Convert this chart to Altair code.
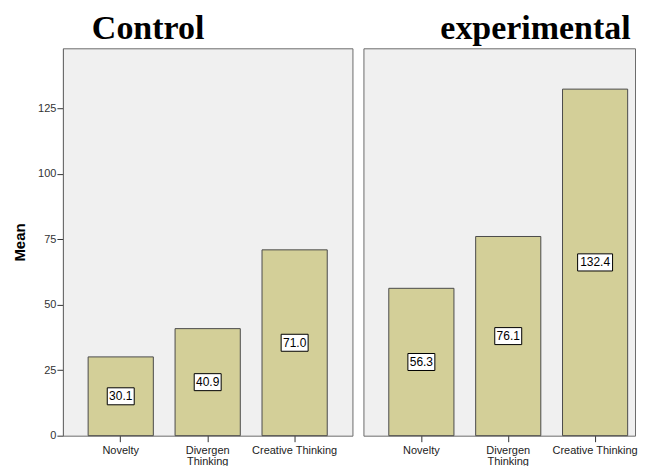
import altair as alt
import pandas as pd

groups = ["Control", "experimental"]
categories = ["Novelty", "Divergen Thinking", "Creative Thinking"]
control_means = [30.1, 40.9, 71.0]
experimental_means = [56.3, 76.1, 132.4]
y_ticks = [0, 25, 50, 75, 100, 125]

rows = []
for g, vals in zip(groups, [control_means, experimental_means]):
    for c, v in zip(categories, vals):
        rows.append({"group": g, "category": c, "mean": v})
df = pd.DataFrame(rows)

BAR_FILL = "#d3cf98"
BAR_STROKE = "#4a4a4a"
BORDER = "#6b6b6b"
SANS = "Liberation Sans"
SERIF = "Liberation Serif"

BOX4 = "M-1,-0.63L1,-0.63L1,0.63L-1,0.63Z"
BOX5 = "M-1,-0.49L1,-0.49L1,0.49L-1,0.49Z"


def panel(group, title_dx, show_y, width, pad_outer, align):
    base = alt.Chart(df).transform_filter(alt.datum.group == group)
    x = alt.X(
        "category:N",
        sort=categories,
        scale=alt.Scale(paddingInner=0.25, paddingOuter=pad_outer, align=align),
        axis=alt.Axis(
            title=None,
            labelAngle=0,
            labelExpr="datum.value == 'Divergen Thinking' ? ['Divergen', 'Thinking'] : datum.value",
            labelFont=SANS,
            labelFontSize=11,
            labelColor="#222222",
            labelLineHeight=11,
            labelPadding=3,
            tickSize=6,
            tickColor="#333333",
            domain=False,
        ),
    )
    if show_y:
        yaxis = alt.Axis(
            title="Mean",
            titleFont=SANS,
            titleFontSize=15,
            titleFontWeight="bold",
            titleColor="black",
            titlePadding=10,
            values=y_ticks,
            labelFont=SANS,
            labelFontSize=11,
            labelColor="#333333",
            labelPadding=1,
            tickSize=6,
            tickColor="#333333",
            domainColor=BORDER,
            grid=False,
        )
    else:
        yaxis = None
    yscale = alt.Scale(domain=[0, 148], nice=False)

    bars = base.mark_bar(fill=BAR_FILL, stroke=BAR_STROKE, strokeWidth=1).encode(
        x=x, y=alt.Y("mean:Q", scale=yscale, axis=yaxis)
    )
    lab = base.transform_calculate(
        mid="datum.mean / 2", lab="format(datum.mean, '.1f')"
    )
    ymid = alt.Y("mid:Q", scale=yscale, axis=yaxis)
    box4 = lab.transform_filter("length(datum.lab) <= 4").mark_point(
        shape=BOX4, size=729, filled=True, fill="white", stroke="black",
        strokeWidth=1, opacity=1
    ).encode(x=x, y=ymid)
    box5 = lab.transform_filter("length(datum.lab) > 4").mark_point(
        shape=BOX5, size=1225, filled=True, fill="white", stroke="black",
        strokeWidth=1, opacity=1
    ).encode(x=x, y=ymid)
    text = lab.mark_text(
        font=SANS, fontSize=12, color="black", align="center", baseline="middle"
    ).encode(x=x, y=ymid, text="lab:N")

    return alt.layer(bars, box4, box5, text).properties(
        width=width,
        height=388,
        title=alt.TitleParams(
            text=group,
            anchor="start",
            frame="group",
            dx=title_dx,
            offset=2,
            font=SERIF,
            fontSize=34,
            fontWeight="bold",
            color="black",
        ),
    )


chart = (
    alt.hconcat(
        panel("Control", 29, True, 290, 0.29, 0.5),
        panel("experimental", 77, False, 272, 0.1882, 0.7756),
        spacing=9,
    )
    .properties(padding={"left": 4, "top": 3, "right": 0, "bottom": 0})
    .configure_view(fill="#f0f0f0", stroke=BORDER, strokeWidth=1)
)

chart.save("out.html", embed_options={"renderer": "svg", "actions": False})
